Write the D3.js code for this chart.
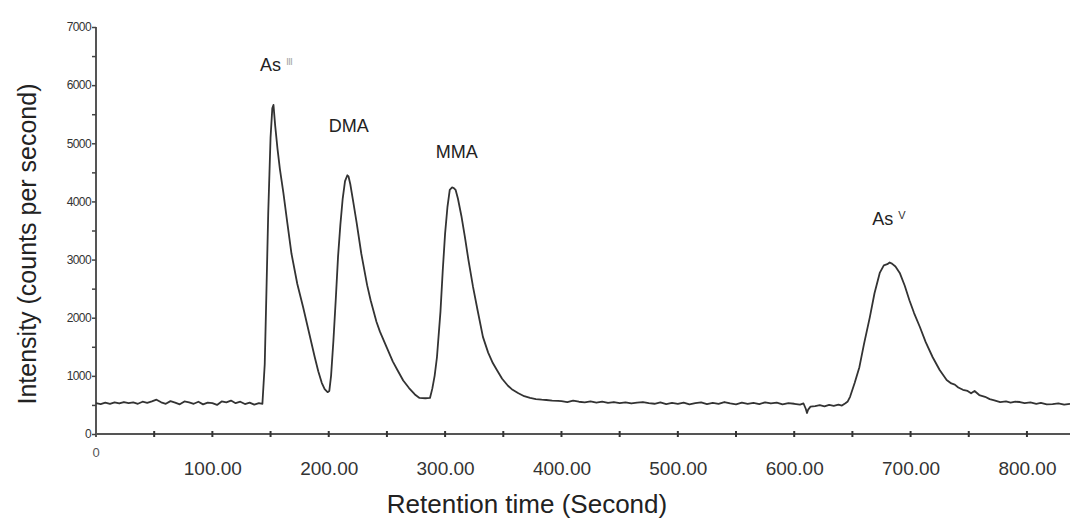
<!DOCTYPE html>
<html>
<head>
<meta charset="utf-8">
<script src="https://cdn.jsdelivr.net/npm/d3@7"></script>
<style>
  body { margin: 0; background: #fff; }
  svg { display: block; font-family: "Liberation Sans", Arial, sans-serif; }
</style>
</head>
<body>
<svg id="chart" width="1070" height="530"></svg>
<script>
// Chromatogram trace: [retention time (s), intensity (counts per second)]
const trace = [
  [0, 530], [4, 515], [8, 540], [12, 520], [16, 545], [20, 525], [24, 550], [28, 530],
  [32, 545], [36, 520], [40, 555], [44, 535], [48, 560], [52, 590], [56, 545], [60, 520],
  [64, 565], [68, 540], [72, 510], [76, 560], [80, 545], [84, 520], [88, 555], [92, 510],
  [96, 540], [100, 530], [104, 500], [108, 560], [112, 545], [116, 575], [120, 530],
  [124, 555], [128, 515], [132, 540], [136, 505], [140, 530], [143, 520],
  // As(III)
  [145, 1200], [146.5, 2480], [148, 3800], [150, 5100], [151.5, 5600], [152.5, 5660],
  [154, 5300], [156, 4900], [158, 4560], [161, 4150], [164.5, 3620], [168, 3100],
  [173, 2580], [178, 2180], [183, 1750], [188, 1320], [191, 1080],
  [194, 880], [196.5, 770], [199, 720], [200.5, 740],
  // DMA
  [202, 1000], [204, 1600], [206, 2300], [208, 3050], [210, 3600], [212, 4050],
  [214, 4350], [216, 4450], [217, 4430], [218.5, 4300], [221, 4000], [224, 3630],
  [228, 3100], [233, 2560], [236, 2300], [241, 1930], [244, 1760], [250, 1480],
  [255, 1250], [259, 1100], [264, 920], [269, 790], [274, 680], [278, 620],
  [283, 615], [287, 620],
  // MMA
  [289, 780], [291, 1000], [293, 1320], [296, 2100], [298, 2820], [300, 3450],
  [302, 3900], [304, 4200], [306, 4240], [307.5, 4230], [309, 4200], [311, 4050],
  [314, 3750], [317, 3390], [320, 3000], [324, 2530], [328, 2120], [332.5, 1670],
  [337, 1400], [341, 1220], [344.5, 1100], [349, 950], [354, 830], [358, 760],
  [363, 700], [368, 650], [373, 620], [378, 600], [383, 590], [387, 585], [392, 575],
  [397, 570],
  // baseline
  [400, 565], [405, 550], [410, 575], [415, 555], [420, 545], [425, 560], [430, 540],
  [435, 555], [440, 535], [445, 550], [450, 530], [455, 545], [460, 525], [465, 540],
  [470, 550], [475, 530], [480, 520], [485, 545], [490, 515], [495, 535], [500, 520],
  [505, 540], [510, 510], [515, 530], [520, 545], [525, 515], [530, 535], [535, 520],
  [540, 550], [545, 525], [550, 510], [555, 540], [560, 520], [565, 535], [570, 515],
  [575, 545], [580, 525], [585, 540], [590, 510], [595, 530], [600, 520], [605, 505],
  [608, 525], [610, 430], [611, 360], [612, 420], [614, 470], [618, 480], [622, 495],
  [626, 475], [630, 500], [634, 485], [638, 505], [641, 490], [644, 530], [646, 560],
  // As(V)
  [648, 640], [652, 880], [656, 1150], [660, 1550], [665, 2010], [669, 2420],
  [673.5, 2770], [677, 2900], [680, 2920], [682, 2950], [684, 2930], [687, 2880],
  [690.7, 2770], [695, 2550], [699, 2300], [703, 2080], [708, 1840], [713, 1580],
  [719, 1320], [725, 1100], [731, 930], [735, 870], [738, 850], [741, 800], [745, 760],
  [749, 740], [752, 700], [755, 740], [759, 670], [764, 640], [768, 600], [772, 580],
  [777, 550], [782, 560], [786, 540], [790, 555], [794, 550], [798, 530], [803, 545],
  [808, 520], [812, 535], [817, 510], [822, 515], [827, 525], [832, 505], [837, 520]
];

// Peak annotations: name, superscript, anchor time, anchor intensity
const peakNames = ["As", "DMA", "MMA", "As"];
const peakSups = ["\u2162", "", "", "V"];
const peakTimes = [141, 200, 292, 667];
const peakLevels = [6250, 5200, 4750, 3600];

const xTicks = d3.range(50, 850, 50);
const xLabels = [100, 200, 300, 400, 500, 600, 700, 800];
const yTicks = d3.range(500, 7001, 500);
const yLabels = [0, 1000, 2000, 3000, 4000, 5000, 6000, 7000];

const svg = d3.select("#chart");
const x = d3.scaleLinear().domain([0, 837]).range([96, 1070]);
const y = d3.scaleLinear().domain([0, 7000]).range([434, 27]);

const axisColor = "#555";

// x axis line and tick marks
svg.append("line")
  .attr("x1", x(0)).attr("x2", 1070)
  .attr("y1", y(0)).attr("y2", y(0))
  .attr("stroke", axisColor).attr("stroke-width", 2);

svg.append("g").selectAll("line")
  .data(xTicks)
  .join("line")
  .attr("x1", d => x(d)).attr("x2", d => x(d))
  .attr("y1", y(0) - 3).attr("y2", y(0) + 3)
  .attr("stroke", "#333").attr("stroke-width", 2);

svg.append("g")
  .attr("transform", `translate(0,${y(0) + 24})`)
  .call(d3.axisBottom(x).tickValues(xLabels).tickFormat(d3.format(".2f")).tickSize(0))
  .call(g => g.select(".domain").remove())
  .call(g => g.selectAll("text")
    .attr("font-size", 19).attr("fill", "#333")
    .attr("font-family", "Liberation Sans, Arial, sans-serif"));

svg.append("text")
  .attr("x", x(0)).attr("y", y(0) + 23)
  .attr("text-anchor", "middle")
  .attr("font-size", 13).attr("fill", "#555")
  .text("0");

// y axis
svg.append("line")
  .attr("x1", x(0)).attr("x2", x(0))
  .attr("y1", y(7000)).attr("y2", y(0) + 3)
  .attr("stroke", axisColor).attr("stroke-width", 2);

svg.append("g")
  .attr("transform", `translate(${x(0)},0)`)
  .call(d3.axisLeft(y).tickValues([0, ...yTicks]).tickSize(4)
    .tickFormat(d => yLabels.includes(d) ? d : ""))
  .call(g => g.select(".domain").remove())
  .call(g => g.selectAll("line").attr("stroke", "#444").attr("stroke-width", 1.5))
  .call(g => g.selectAll("text")
    .attr("font-size", 12).attr("fill", "#333").attr("dx", 2)
    .attr("font-family", "Liberation Sans, Arial, sans-serif")
    .attr("letter-spacing", -0.6));

// trace
const line = d3.line().x(d => x(d[0])).y(d => y(d[1]));
svg.append("path")
  .datum(trace)
  .attr("d", line)
  .attr("fill", "none")
  .attr("stroke", "#333")
  .attr("stroke-width", 1.8)
  .attr("stroke-linejoin", "round");

// peak labels
peakNames.forEach((name, i) => {
  const t = svg.append("text")
    .attr("x", x(peakTimes[i])).attr("y", y(peakLevels[i]))
    .attr("font-size", 18).attr("fill", "#222")
    .text(name);
  if (peakSups[i]) {
    t.append("tspan")
      .attr("dx", 5).attr("dy", -6)
      .attr("font-size", peakSups[i] === "V" ? 11 : 10)
      .attr("fill", peakSups[i] === "V" ? "#333" : "#aaa")
      .text(peakSups[i]);
  }
});

// axis titles
svg.append("text")
  .attr("x", 527).attr("y", 513)
  .attr("text-anchor", "middle")
  .attr("font-size", 26).attr("fill", "#222")
  .text("Retention time (Second)");

svg.append("text")
  .attr("transform", "translate(36,244) rotate(-90)")
  .attr("text-anchor", "middle")
  .attr("font-size", 25).attr("fill", "#222")
  .text("Intensity (counts per second)");
</script>
</body>
</html>
